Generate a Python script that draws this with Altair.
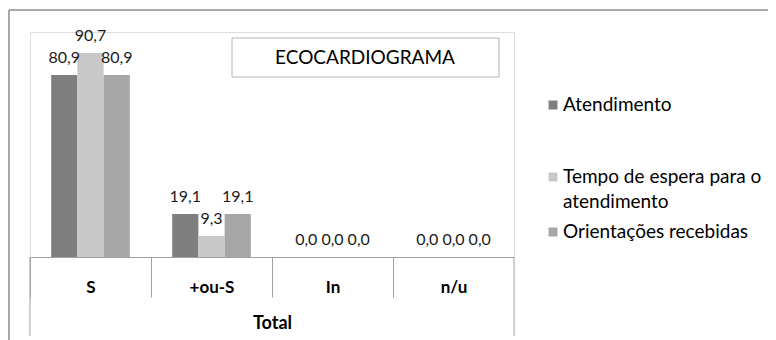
import altair as alt
import pandas as pd

categories = ["S", "+ou-S", "In", "n/u"]
series = ["Atendimento", "Tempo de espera para o atendimento", "Orientações recebidas"]
atendimento = [80.9, 19.1, 0.0, 0.0]
tempo_espera = [90.7, 9.3, 0.0, 0.0]
orientacoes = [80.9, 19.1, 0.0, 0.0]
colors = ["#7f7f7f", "#c8c8c8", "#a6a6a6"]
chart_title = "ECOCARDIOGRAMA"
axis_title = "Total"

rows = []
for s, vals in zip(series, [atendimento, tempo_espera, orientacoes]):
    for c, v in zip(categories, vals):
        rows.append({"cat": c, "serie": s, "valor": v,
                     "rotulo": f"{v:.1f}".replace(".", ",")})
df = pd.DataFrame(rows)

FONT = "Lato"
GRAY = "#a0a0a0"
W, H = 484, 225
STEP = W / len(categories)

x_enc = alt.X("cat:N", sort=categories,
              scale=alt.Scale(paddingInner=0.35, paddingOuter=0.175),
              axis=alt.Axis(title=axis_title, tickSize=40, tickOffset=-STEP / 2,
                            labelOffset=STEP / 2,
                            tickColor=GRAY, domainColor=GRAY, labelAngle=0,
                            labelFont=FONT, labelFontSize=17, labelFontWeight="bold",
                            labelColor="#000", labelPadding=-18,
                            titleFont=FONT, titleFontSize=18, titleFontWeight="bold",
                            titleColor="#000", titlePadding=17))
xo_enc = alt.XOffset("serie:N", sort=series, scale=alt.Scale(paddingInner=0, paddingOuter=0))
y_enc = alt.Y("valor:Q", scale=alt.Scale(domain=[0, 100]), axis=None)
c_enc = alt.Color("serie:N", scale=alt.Scale(domain=series, range=colors), legend=None)

base = alt.Chart(df)
bars = base.mark_bar().encode(x=x_enc, xOffset=xo_enc, y=y_enc, color=c_enc)
labels = base.mark_text(font=FONT, fontSize=16, color="#1a1a1a", baseline="alphabetic", dy=-12).encode(
    x=x_enc, xOffset=xo_enc, y=y_enc, text="rotulo:N")

one = alt.Chart(pd.DataFrame({"a": [0]}))

# outer frame
frame_top = one.mark_rule(color="#8c8c8c", strokeWidth=1.5).encode(
    x=alt.value(-21), x2=alt.value(760), y=alt.value(-22))
frame_left = one.mark_rule(color="#8c8c8c", strokeWidth=1.5).encode(
    x=alt.value(-21), y=alt.value(-22), y2=alt.value(320))
# outer table borders
edge_left = one.mark_rule(color=GRAY).encode(x=alt.value(0), y=alt.value(H), y2=alt.value(304))
edge_right = one.mark_rule(color=GRAY).encode(x=alt.value(W), y=alt.value(H), y2=alt.value(304))

# title box
title_box = one.mark_rect(fill="white", stroke="#b4b4b4", strokeWidth=1).encode(
    x=alt.value(202), x2=alt.value(469), y=alt.value(6), y2=alt.value(45))
title_text = one.mark_text(text=chart_title, font=FONT, fontSize=19, color="#000",
                           baseline="middle", align="center").encode(
    x=alt.value(335), y=alt.value(26))

# legend
legend_y = [73, 145, 200]
legend_layers = []
for s, col, ly in zip(series, colors, legend_y):
    legend_layers.append(one.mark_square(size=80, opacity=1, fill=col).encode(
        x=alt.value(523), y=alt.value(ly)))
    txt = s if s != series[1] else "Tempo de espera para o\natendimento"
    legend_layers.append(one.mark_text(text=txt, lineBreak="\n", lineHeight=25,
                                       font=FONT, fontSize=19, color="#000",
                                       align="left", baseline="middle").encode(
        x=alt.value(533), y=alt.value(ly)))

chart = alt.layer(frame_top, frame_left, edge_left, edge_right, bars, labels,
                  title_box, title_text, *legend_layers).properties(
    width=W, height=H,
    autosize=alt.AutoSizeParams(type="none"),
    padding={"left": 22, "top": 24, "right": 254, "bottom": 83},
).configure_view(stroke=None).configure(background="white")

chart.save("out.html", embed_options={"renderer": "svg", "actions": False})
